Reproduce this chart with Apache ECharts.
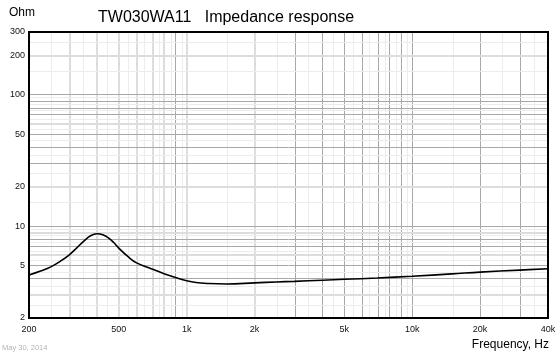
<!DOCTYPE html>
<html>
<head>
<meta charset="utf-8">
<script src="https://cdn.jsdelivr.net/npm/echarts@6/dist/echarts.min.js"></script>
<style>html,body{margin:0;padding:0;background:#fff}#c{width:560px;height:356px}</style>
</head>
<body>
<div id="c"></div>
<script>
// Impedance response data (Hz, Ohm)
const freq = [200, 225, 250, 275, 300, 325, 350, 375, 400, 425, 450, 475, 500, 550, 600, 700, 800, 900, 1000, 1100, 1250, 1500, 2000, 2500, 3000, 4000, 5000, 7000, 10000, 15000, 20000, 30000, 40000];
const imp  = [4.24, 4.55, 4.9, 5.4, 6.0, 6.8, 7.7, 8.45, 8.75, 8.6, 8.15, 7.5, 6.8, 5.85, 5.25, 4.72, 4.33, 4.05, 3.84, 3.72, 3.66, 3.63, 3.7, 3.76, 3.8, 3.88, 3.94, 4.03, 4.16, 4.33, 4.47, 4.63, 4.74];

// Axis tick labels
const xTicks = [200, 500, 1000, 2000, 5000, 10000, 20000, 40000];
const yTicks = [2, 5, 10, 20, 50, 100, 200, 300];

// Grid line values
const xGridDark  = [900, 3000, 4000, 5000, 6000, 7000, 8000, 9000, 10000, 20000, 30000];
const xGridThick = [300, 400, 500, 600, 700, 800, 1000, 2000];
const xGridThin  = [250, 350, 450, 550, 650, 750, 850, 950, 1500, 2500, 3500, 4500, 5500, 6500, 7500, 8500, 9500, 15000, 25000, 35000];
const yGridDark  = [4, 5, 7, 8, 10, 30, 40, 50, 70, 80, 90, 100];
const yGridThick = [3, 6, 9, 20, 60, 200];
const yGridThin  = [2.5, 3.5, 4.5, 5.5, 6.5, 7.5, 8.5, 9.5, 15, 25, 35, 45, 55, 65, 75, 85, 95, 150, 250];

const L = Math.log10;
const styles = {
  dark:  {color: '#a8a8a8', width: 1, type: 'solid'},
  thick: {color: '#dddddd', width: 2, type: 'solid'},
  thin:  {color: '#ececec', width: 1, type: 'solid'}
};
const gridLines = [];
[[xGridThin,'thin'],[xGridThick,'thick'],[xGridDark,'dark']].forEach(([arr,s]) => arr.forEach(v => gridLines.push({xAxis: L(v), lineStyle: styles[s]})));
[[yGridThin,'thin'],[yGridThick,'thick'],[yGridDark,'dark']].forEach(([arr,s]) => arr.forEach(v => gridLines.push({yAxis: L(v), lineStyle: styles[s]})));

function fmt(v) {
  const r = Math.round(Math.pow(10, v) * 100) / 100;
  return r >= 1000 ? (r / 1000) + 'k' : String(r);
}

const FONT = '"Liberation Sans", Arial, sans-serif';
const chart = echarts.init(document.getElementById('c'), null, {renderer: 'canvas'});
chart.setOption({
  animation: false,
  backgroundColor: '#fff',
  title: [
    {text: 'TW030WA11   Impedance response', left: 98, top: 10, padding: 0,
     textStyle: {fontFamily: FONT, fontSize: 16, fontWeight: 'normal', color: '#000'}},
    {text: 'Ohm', left: 9, top: 7, padding: 0,
     textStyle: {fontFamily: FONT, fontSize: 12, fontWeight: 'normal', color: '#000'}},
    {text: 'Frequency, Hz', right: 11, top: 339, padding: 0,
     textStyle: {fontFamily: FONT, fontSize: 12, fontWeight: 'normal', color: '#000'}},
    {text: 'May 30, 2014', left: 2, top: 344, padding: 0,
     textStyle: {fontFamily: FONT, fontSize: 7.5, fontWeight: 'normal', color: '#b4b4b4'}}
  ],
  grid: {left: 29, right: 12, top: 32, bottom: 38, show: true, borderColor: '#000', borderWidth: 2, z: 3},
  xAxis: {
    type: 'value', min: L(200), max: L(40000),
    axisLine: {show: false}, axisTick: {show: false}, splitLine: {show: false},
    axisLabel: {customValues: xTicks.map(L), formatter: fmt, margin: 7,
      fontFamily: FONT, fontSize: 9, color: '#111'}
  },
  yAxis: {
    type: 'value', min: L(2), max: L(300),
    axisLine: {show: false}, axisTick: {show: false}, splitLine: {show: false},
    axisLabel: {customValues: yTicks.map(L), formatter: fmt, margin: 4,
      fontFamily: FONT, fontSize: 9, color: '#111'}
  },
  series: [{
    type: 'line', z: 2,
    data: freq.map((f, i) => [L(f), L(imp[i])]),
    smooth: 0.4, showSymbol: false, silent: true,
    lineStyle: {color: '#000', width: 1.6},
    markLine: {silent: true, symbol: ['none', 'none'], label: {show: false}, animation: false, z: 1,
      emphasis: {disabled: true}, data: gridLines}
  }]
});
</script>
</body>
</html>
